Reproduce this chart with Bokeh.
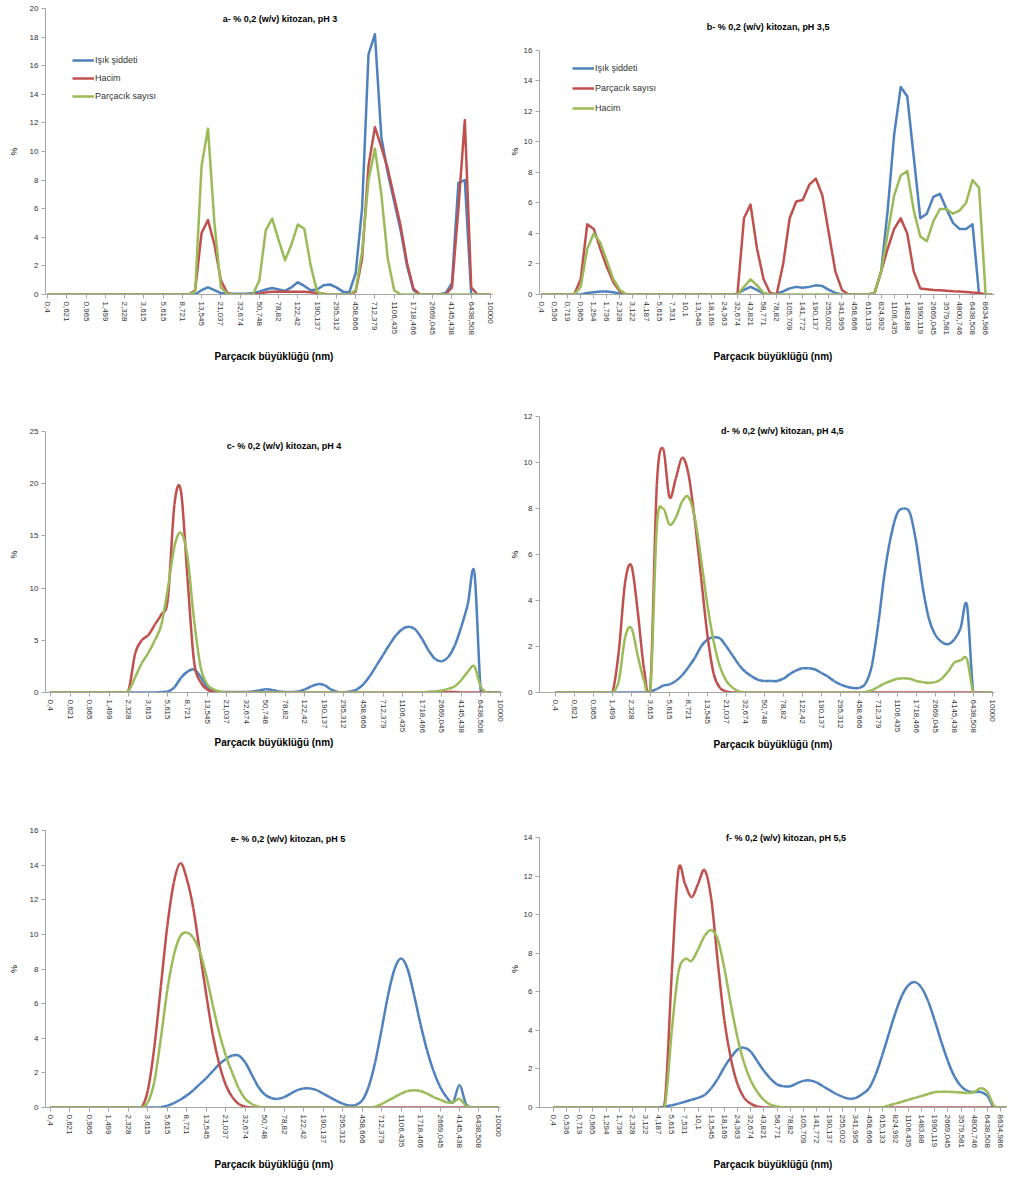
import numpy as np
from bokeh.plotting import figure
from bokeh.models import Range1d, FixedTicker, Label
from bokeh.layouts import column, row
from bokeh.embed import file_html
from bokeh.resources import INLINE

FONT = "Liberation Sans"
BLUE, RED, GREEN = "#4F81BD", "#C0504D", "#9BBB59"

SIZE_LABELS = [
    "0,4", "0,463", "0,536", "0,621", "0,719", "0,833", "0,965", "1,117", "1,294", "1,499",
    "1,736", "2,01", "2,328", "2,696", "3,122", "3,615", "4,187", "4,849", "5,615", "6,503",
    "7,531", "8,721", "10,1", "11,697", "13,545", "15,686", "18,169", "21,037", "24,363", "28,212",
    "32,674", "37,842", "43,821", "50,748", "58,771", "68,061", "78,82", "91,282", "105,709", "122,42",
    "141,772", "164,185", "190,137", "220,196", "255,002", "295,312", "341,995", "396,06", "458,666", "531,17",
    "615,133", "712,379", "824,992", "955,4", "1106,435", "1281,35", "1483,88", "1718,466", "1990,119", "2304,742",
    "2669,045", "3091,042", "3579,581", "4145,438", "4800,746", "5559,714", "6438,508", "7456,356", "8634,986", "10000",
]

# ---- a: pH 3 ----
A_ISIK = [0, 0, 0, 0, 0, 0, 0, 0, 0, 0,
          0, 0, 0, 0, 0, 0, 0, 0, 0, 0,
          0, 0, 0, 0, 0.3, 0.5, 0.3, 0.1, 0.05, 0.05,
          0.05, 0.05, 0.1, 0.2, 0.35, 0.45, 0.35, 0.25, 0.5, 0.85,
          0.6, 0.3, 0.35, 0.65, 0.7, 0.5, 0.2, 0.15, 1.5, 6.0,
          16.8, 18.2, 11.0, 8.5, 6.5, 4.5, 2.0, 0.3, 0, 0,
          0, 0, 0.1, 0.8, 7.8, 8.0, 0, 0, 0, 0]
A_HACIM = [0, 0, 0, 0, 0, 0, 0, 0, 0, 0,
           0, 0, 0, 0, 0, 0, 0, 0, 0, 0,
           0, 0, 0, 0.3, 4.3, 5.2, 3.5, 1.0, 0.1, 0,
           0, 0, 0, 0.05, 0.15, 0.2, 0.2, 0.2, 0.2, 0.2,
           0.2, 0.15, 0.1, 0.05, 0, 0, 0, 0, 0.2, 2.5,
           9.0, 11.7, 10.3, 8.8, 6.8, 4.8, 2.2, 0.4, 0, 0,
           0, 0, 0, 0.5, 6.0, 12.2, 0.5, 0, 0, 0]
A_PARCACIK = [0, 0, 0, 0, 0, 0, 0, 0, 0, 0,
              0, 0, 0, 0, 0, 0, 0, 0, 0, 0,
              0, 0, 0, 0.2, 9.0, 11.6, 5.0, 0.5, 0.05, 0,
              0, 0, 0, 1.0, 4.5, 5.3, 3.8, 2.4, 3.5, 4.9,
              4.6, 2.0, 0.2, 0, 0, 0, 0, 0, 0.3, 3.0,
              8.0, 10.2, 7.0, 2.5, 0.3, 0, 0, 0, 0, 0,
              0, 0, 0, 0, 0, 0, 0, 0, 0, 0]

# ---- b: pH 3,5 ----
B_ISIK = [0, 0, 0, 0, 0, 0, 0, 0.1, 0.15, 0.2,
          0.2, 0.15, 0.05, 0, 0, 0, 0, 0, 0, 0,
          0, 0, 0, 0, 0, 0, 0, 0, 0, 0,
          0.05, 0.3, 0.5, 0.3, 0.05, 0, 0.05, 0.2, 0.4, 0.5,
          0.45, 0.5, 0.6, 0.55, 0.3, 0.1, 0, 0, 0, 0,
          0, 0.1, 1.5, 5.5, 10.5, 13.6, 13.0, 9.0, 5.0, 5.3,
          6.4, 6.6, 5.6, 4.7, 4.3, 4.3, 4.6, 0, 0, 0]
B_PARCACIK = [0, 0, 0, 0, 0, 0, 1.0, 4.6, 4.3, 3.0,
              1.8, 0.8, 0.2, 0, 0, 0, 0, 0, 0, 0,
              0, 0, 0, 0, 0, 0, 0, 0, 0, 0,
              0, 5.0, 5.9, 3.0, 1.0, 0.1, 0, 2.0, 5.0, 6.1,
              6.2, 7.2, 7.6, 6.5, 4.0, 1.5, 0.3, 0, 0, 0,
              0, 0.1, 1.5, 3.0, 4.3, 5.0, 4.0, 1.5, 0.4, 0.35,
              0.3, 0.28, 0.25, 0.22, 0.2, 0.17, 0.13, 0.1, 0, 0]
B_HACIM = [0, 0, 0, 0, 0, 0, 0.5, 3.0, 4.0, 3.4,
           2.2, 1.0, 0.3, 0, 0, 0, 0, 0, 0, 0,
           0, 0, 0, 0, 0, 0, 0, 0, 0, 0,
           0, 0.5, 1.0, 0.6, 0.1, 0, 0, 0, 0, 0,
           0, 0, 0, 0, 0, 0, 0, 0, 0, 0,
           0, 0.1, 1.5, 4.0, 6.5, 7.8, 8.1, 5.5, 3.8, 3.5,
           4.8, 5.6, 5.6, 5.3, 5.5, 6.0, 7.5, 7.0, 0, 0]

# ---- c: pH 4 ----
C_ISIK = [0, 0, 0, 0, 0, 0, 0, 0, 0, 0,
          0, 0, 0, 0, 0, 0, 0, 0.05, 0.1, 0.5,
          1.4, 2.0, 2.2, 1.5, 0.5, 0.15, 0.05, 0.05, 0.05, 0.05,
          0.05, 0.1, 0.2, 0.3, 0.25, 0.1, 0.05, 0.05, 0.1, 0.3,
          0.6, 0.8, 0.7, 0.3, 0.05, 0.02, 0.1, 0.3, 0.8, 1.6,
          2.6, 3.6, 4.6, 5.5, 6.1, 6.3, 6.0, 5.1, 4.0, 3.2,
          3.0, 3.4, 4.5, 6.3, 8.5, 11.5, 0, 0, 0, 0]
C_HACIM = [0, 0, 0, 0, 0, 0, 0, 0, 0, 0,
           0, 0, 0.3, 3.8, 5.0, 5.5, 6.5, 7.5, 9.0, 18.0,
           19.3, 11.0, 3.0, 1.0, 0.3, 0.1, 0, 0, 0, 0,
           0, 0, 0, 0, 0, 0, 0, 0, 0, 0,
           0, 0, 0, 0, 0, 0, 0, 0, 0, 0,
           0, 0, 0, 0, 0, 0, 0, 0, 0.05, 0.05,
           0.05, 0.05, 0.05, 0, 0, 0, 0, 0, 0, 0]
C_PARCACIK = [0, 0, 0, 0, 0, 0, 0, 0, 0, 0,
              0, 0, 0.2, 1.5, 2.8, 3.8, 5.0, 6.5, 10.0, 14.0,
              15.3, 13.0, 7.0, 2.5, 0.8, 0.3, 0.1, 0, 0, 0,
              0, 0, 0, 0, 0, 0, 0, 0, 0, 0,
              0, 0, 0, 0, 0, 0, 0, 0, 0, 0,
              0, 0, 0, 0, 0, 0, 0, 0, 0.05, 0.1,
              0.2, 0.35, 0.6, 1.2, 2.0, 2.5, 0.5, 0, 0, 0]

# ---- d: pH 4,5 ----
D_ISIK = [0, 0, 0, 0, 0, 0, 0, 0, 0, 0,
          0, 0, 0, 0, 0, 0.05, 0.15, 0.3, 0.35, 0.5,
          0.75, 1.1, 1.5, 2.0, 2.3, 2.4, 2.35, 2.0, 1.6, 1.2,
          0.9, 0.7, 0.55, 0.5, 0.5, 0.5, 0.6, 0.8, 0.95, 1.05,
          1.05, 1.0, 0.85, 0.7, 0.5, 0.35, 0.25, 0.2, 0.2, 0.4,
          1.2, 3.0, 5.2, 6.8, 7.8, 8.0, 7.8, 6.5, 4.6, 3.2,
          2.5, 2.2, 2.1, 2.3, 2.8, 3.8, 0, 0, 0, 0]
D_PARCACIK = [0, 0, 0, 0, 0, 0, 0, 0, 0, 0,
              1.8, 4.8, 5.5, 3.5, 1.0, 0.3, 9.0, 10.6, 8.5, 9.3,
              10.2, 9.5, 7.5, 5.0, 2.5, 0.8, 0.2, 0.05, 0, 0,
              0, 0, 0, 0, 0, 0, 0, 0, 0, 0,
              0, 0, 0, 0, 0, 0, 0, 0, 0, 0,
              0, 0, 0, 0, 0, 0, 0, 0, 0, 0,
              0, 0, 0, 0, 0, 0, 0, 0, 0, 0]
D_HACIM = [0, 0, 0, 0, 0, 0, 0, 0, 0, 0,
           0.5, 2.4, 2.8, 1.6, 0.5, 0.1, 7.2, 8.0, 7.3, 7.6,
           8.3, 8.5, 7.6, 5.8, 3.8, 2.2, 1.1, 0.5, 0.2, 0.05,
           0, 0, 0, 0, 0, 0, 0, 0, 0, 0,
           0, 0, 0, 0, 0, 0, 0, 0, 0, 0.02,
           0.1, 0.25, 0.4, 0.5, 0.6, 0.62, 0.6, 0.5, 0.45, 0.42,
           0.45, 0.6, 0.9, 1.3, 1.4, 1.45, 0, 0, 0, 0]

# ---- e: pH 5 ----
E_ISIK = [0, 0, 0, 0, 0, 0, 0, 0, 0, 0,
          0, 0, 0, 0, 0, 0, 0, 0.02, 0.1, 0.25,
          0.45, 0.7, 1.0, 1.35, 1.7, 2.1, 2.5, 2.8, 3.0, 3.0,
          2.6, 1.9, 1.2, 0.75, 0.55, 0.5, 0.6, 0.8, 1.0, 1.1,
          1.1, 1.0, 0.8, 0.6, 0.4, 0.22, 0.12, 0.15, 0.4, 1.2,
          2.6, 4.5, 6.5, 8.0, 8.6, 8.0, 6.5, 4.8, 3.3, 2.1,
          1.2, 0.6, 0.3, 1.3, 0.2, 0, 0, 0, 0, 0]
E_HACIM = [0, 0, 0, 0, 0, 0, 0, 0, 0, 0,
           0, 0, 0, 0, 0, 1.0, 3.5, 7.0, 10.5, 13.0,
           14.1, 13.2, 11.5, 9.0, 6.5, 4.2, 2.5, 1.3, 0.6, 0.2,
           0.05, 0, 0, 0, 0, 0, 0, 0, 0, 0,
           0, 0, 0, 0, 0, 0, 0, 0, 0, 0,
           0, 0, 0, 0, 0, 0, 0, 0, 0, 0,
           0, 0, 0, 0, 0, 0, 0, 0, 0, 0]
E_PARCACIK = [0, 0, 0, 0, 0, 0, 0, 0, 0, 0,
              0, 0, 0, 0, 0, 0.3, 1.5, 4.0, 6.8, 8.8,
              9.9, 10.1, 9.8, 9.0, 7.6, 5.9, 4.3, 3.0, 2.0, 1.1,
              0.5, 0.2, 0.05, 0, 0, 0, 0, 0, 0, 0,
              0, 0, 0, 0, 0, 0, 0, 0, 0, 0,
              0.05, 0.2, 0.4, 0.6, 0.8, 0.95, 1.0, 0.95, 0.8, 0.6,
              0.45, 0.3, 0.3, 0.5, 0.1, 0, 0, 0, 0, 0]

# ---- f: pH 5,5 ----
F_ISIK = [0, 0, 0, 0, 0, 0, 0, 0, 0, 0,
          0, 0, 0, 0, 0, 0, 0, 0.05, 0.12, 0.2,
          0.3, 0.4, 0.5, 0.65, 1.0, 1.5, 2.1, 2.6, 3.0, 3.1,
          2.9, 2.4, 1.9, 1.5, 1.2, 1.1, 1.1, 1.25, 1.38, 1.4,
          1.3, 1.1, 0.9, 0.7, 0.55, 0.45, 0.5, 0.7, 1.0, 1.7,
          2.7, 3.8, 4.9, 5.8, 6.35, 6.5, 6.2, 5.5, 4.5, 3.4,
          2.4, 1.6, 1.1, 0.85, 0.8, 0.8, 0.6, 0, 0, 0]
F_PARCACIK = [0, 0, 0, 0, 0, 0, 0, 0, 0, 0,
              0, 0, 0, 0, 0, 0, 0, 0.5, 7.0, 12.3,
              11.6, 10.9, 11.6, 12.3, 10.8, 7.5, 4.5, 2.5, 1.2, 0.5,
              0.2, 0.05, 0, 0, 0, 0, 0, 0, 0, 0,
              0, 0, 0, 0, 0, 0, 0, 0, 0, 0,
              0, 0, 0, 0, 0, 0, 0, 0, 0, 0,
              0, 0, 0, 0, 0, 0, 0, 0, 0, 0]
F_HACIM = [0, 0, 0, 0, 0, 0, 0, 0, 0, 0,
           0, 0, 0, 0, 0, 0, 0, 0.2, 4.0, 7.0,
           7.7, 7.6, 8.2, 8.9, 9.2, 8.7, 7.2, 5.3, 3.6, 2.3,
           1.4, 0.8, 0.4, 0.15, 0.05, 0, 0, 0, 0, 0,
           0, 0, 0, 0, 0, 0, 0, 0, 0, 0,
           0.02, 0.1, 0.2, 0.3, 0.4, 0.5, 0.6, 0.7, 0.8, 0.82,
           0.82, 0.8, 0.78, 0.75, 0.8, 1.0, 0.8, 0.1, 0, 0]


def smooth_source(ys):
    """Catmull-Rom style control points (Excel smoothed line) for p.bezier."""
    n = len(ys)
    xs = list(range(n))
    d = {k: [] for k in ("x0", "y0", "x1", "y1", "cx0", "cy0", "cx1", "cy1")}
    for i in range(n - 1):
        a = max(i - 1, 0)
        b = min(i + 2, n - 1)
        d["x0"].append(xs[i]); d["y0"].append(ys[i])
        d["x1"].append(xs[i + 1]); d["y1"].append(ys[i + 1])
        d["cx0"].append(xs[i] + (xs[i + 1] - xs[a]) / 6.0)
        d["cy0"].append(ys[i] + (ys[i + 1] - ys[a]) / 6.0)
        d["cx1"].append(xs[i + 1] - (xs[b] - xs[i]) / 6.0)
        d["cy1"].append(ys[i + 1] - (ys[b] - ys[i]) / 6.0)
    return d


def make_panel(title, series, ymax, ystep, label_step, smooth, legend_loc, legend_gap,
               width, height, bl, br, bt, bb, xr, xb, ytop, title_dy,
               ylab_standoff=8, xlab_standoff=7, title_dx=10):
    p = figure(width=width, height=height, output_backend="svg", toolbar_location=None,
               x_range=Range1d(*xr), y_range=Range1d(0, ytop),
               min_border_left=bl, min_border_right=br, min_border_top=bt, min_border_bottom=bb)
    p.outline_line_color = None
    p.xgrid.visible = False
    p.ygrid.visible = False
    p.background_fill_color = "white"

    for name, ys, color in series:
        if smooth:
            src = smooth_source(ys)
            p.bezier(x0=src["x0"], y0=src["y0"], x1=src["x1"], y1=src["y1"],
                     cx0=src["cx0"], cy0=src["cy0"], cx1=src["cx1"], cy1=src["cy1"],
                     line_color=color, line_width=2.5)
        else:
            kw = {}
            if legend_loc is not None:
                kw["legend_label"] = name
            p.line(list(range(len(ys))), ys, line_color=color, line_width=2.5,
                   line_join="round", **kw)

    ticks = list(range(0, len(SIZE_LABELS), label_step))
    p.xaxis.ticker = FixedTicker(ticks=ticks)
    p.xaxis.major_label_overrides = {t: SIZE_LABELS[t] for t in ticks}
    p.xaxis.major_label_orientation = "vertical"
    p.xaxis.bounds = xb
    p.yaxis.ticker = FixedTicker(ticks=list(range(0, ymax + 1, ystep)))
    p.yaxis.bounds = (0, ymax)

    for ax in (p.xaxis[0], p.yaxis[0]):
        ax.axis_line_color = "#A6A6A6"
        ax.major_tick_line_color = "#A6A6A6"
        ax.minor_tick_line_color = None
        ax.major_tick_out = 4
        ax.major_tick_in = 0
        ax.major_label_text_font = FONT
        ax.major_label_text_font_size = "8px"
        ax.major_label_text_color = "#333333"
        ax.major_label_standoff = 3
        ax.axis_label_text_font = FONT
        ax.axis_label_text_color = "#000000"

    p.xaxis.axis_label = "Parçacık büyüklüğü (nm)"
    p.xaxis.axis_label_text_font_size = "10px"
    p.xaxis.axis_label_text_font_style = "bold"
    p.xaxis.axis_label_standoff = xlab_standoff
    p.yaxis.axis_label = "%"
    p.yaxis.axis_label_text_font_size = "9px"
    p.yaxis.axis_label_text_font_style = "normal"
    p.yaxis.axis_label_standoff = ylab_standoff

    p.add_layout(Label(x=(xb[0] + xb[1]) / 2.0, y=ymax, x_offset=title_dx, y_offset=-title_dy,
                       text=title, text_align="center", text_baseline="middle",
                       text_font=FONT, text_font_size="9px", text_font_style="bold",
                       text_color="#000000"))

    if legend_loc is not None:
        lg = p.legend[0]
        lg.location = legend_loc
        lg.border_line_color = None
        lg.background_fill_alpha = 0
        lg.label_text_font = FONT
        lg.label_text_font_size = "9px"
        lg.label_text_color = "#333333"
        lg.glyph_width = 22
        lg.glyph_height = 14
        lg.label_height = 14
        lg.spacing = legend_gap
        lg.padding = 0
        lg.margin = 0
        lg.label_standoff = 1
    return p


W1, W2 = 505, 509
# shared frame borders per row / column (Bokeh aligns frames in rows and columns)
L1, R1, L2, R2 = 45, 3, 34, 8
T1, B1, H1 = 8, 99, 393
T2, B2, H2 = 23, 100, 399
T3, B3, H3 = 38, 63, 380

pa = make_panel("a- % 0,2 (w/v) kitozan, pH 3",
                [("Işık şiddeti", A_ISIK, BLUE), ("Hacim", A_HACIM, RED),
                 ("Parçacık sayısı", A_PARCACIK, GREEN)],
                20, 2, 3, False, (27, 191), 4,
                W1, H1, L1, R1, T1, B1, (-0.31, 70.87), (-0.31, 69.3), 20.0, 10,
                xlab_standoff=13, title_dx=11)
pb = make_panel("b- % 0,2 (w/v) kitozan, pH 3,5",
                [("Işık şiddeti", B_ISIK, BLUE), ("Parçacık sayısı", B_PARCACIK, RED),
                 ("Hacim", B_HACIM, GREEN)],
                16, 2, 2, False, (33, 179), 6,
                W2, H1, L2, R2, T1, B1, (-0.31, 71.2), (-0.31, 69.4), 18.75, -23,
                ylab_standoff=1, xlab_standoff=13, title_dx=1)
pc = make_panel("c- % 0,2 (w/v) kitozan, pH 4",
                [("Işık şiddeti", C_ISIK, BLUE), ("Hacim", C_HACIM, RED),
                 ("Parçacık sayısı", C_PARCACIK, GREEN)],
                25, 5, 3, True, None, 4,
                W1, H2, L1, R1, T2, B2, (-0.77, 69.31), (-0.77, 69.31), 26.44, 14,
                xlab_standoff=1, title_dx=10)
pd = make_panel("d- % 0,2 (w/v) kitozan, pH 4,5",
                [("Işık şiddeti", D_ISIK, BLUE), ("Parçacık sayısı", D_PARCACIK, RED),
                 ("Hacim", D_HACIM, GREEN)],
                12, 2, 3, True, None, 4,
                W2, H2, L2, R2, T2, B2, (-2.53, 71.25), (-2.53, 69.4), 12.0, 14,
                ylab_standoff=1, xlab_standoff=3, title_dx=15)
pe = make_panel("e- % 0,2 (w/v) kitozan, pH 5",
                [("Işık şiddeti", E_ISIK, BLUE), ("Hacim", E_HACIM, RED),
                 ("Parçacık sayısı", E_PARCACIK, GREEN)],
                16, 2, 3, True, None, 4,
                W1, H3, L1, R1, T3, B3, (-0.77, 69.62), (-0.77, 69.3), 16.0, 8,
                xlab_standoff=8, title_dx=15)
pf = make_panel("f- % 0,2 (w/v) kitozan, pH 5,5",
                [("Işık şiddeti", F_ISIK, BLUE), ("Parçacık sayısı", F_PARCACIK, RED),
                 ("Hacim", F_HACIM, GREEN)],
                14, 2, 2, True, None, 4,
                W2, H3, L2, R2, T3, B3, (-2.13, 68.91), (-2.13, 68.91), 14.36, 1,
                ylab_standoff=1, xlab_standoff=8, title_dx=13)

layout = column(row(pa, pb), row(pc, pd), row(pe, pf), spacing=0)
open("out.html", "w").write(file_html(layout, INLINE))
